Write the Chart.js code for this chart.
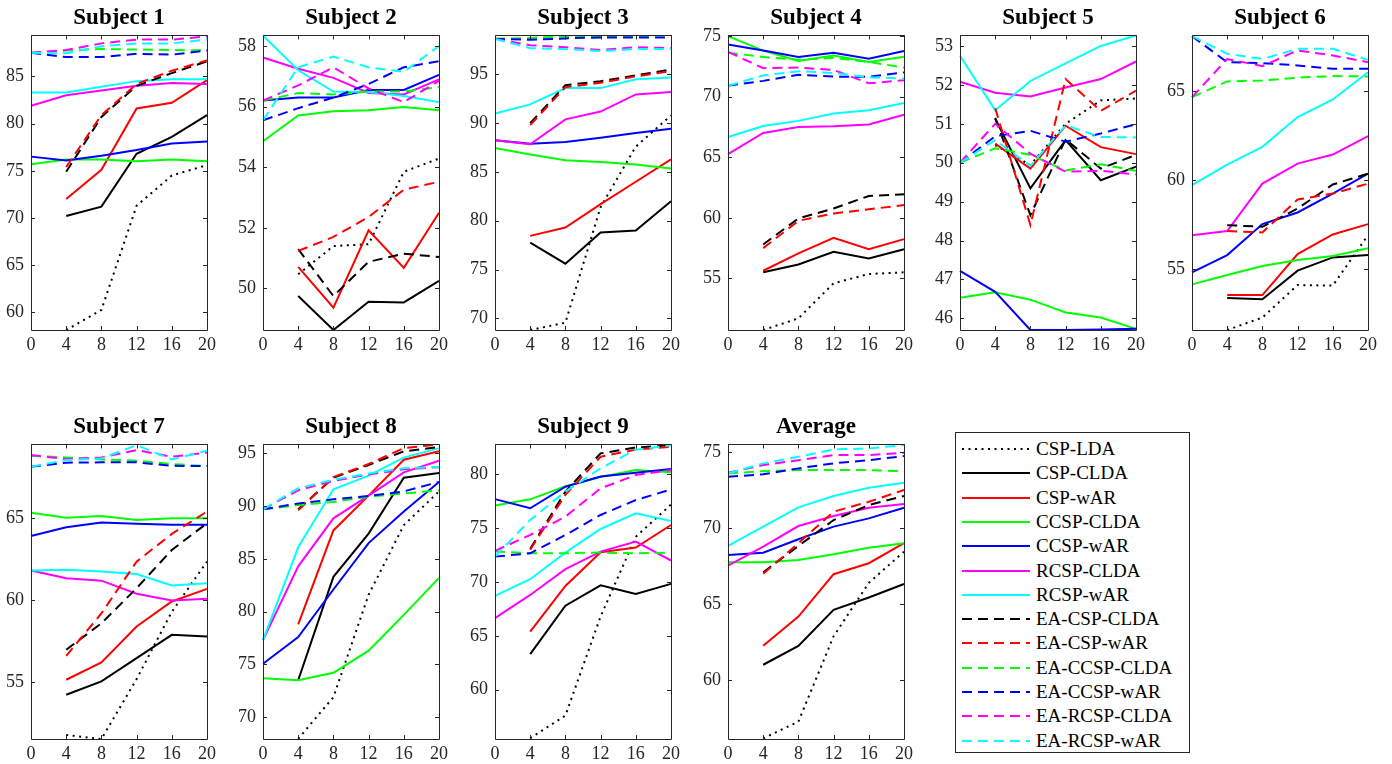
<!DOCTYPE html>
<html>
<head>
<meta charset="utf-8">
<script src="https://cdn.jsdelivr.net/npm/chart.js@4"></script>
<style>
  body { margin: 0; background: #fff; width: 1392px; height: 764px; position: relative; overflow: hidden; }
  .panel { position: absolute; }
  #legend { position: absolute; left: 955px; top: 432px; width: 235px; height: 321px; border: 1px solid #262626; box-sizing: border-box; background: #fff; }
  .entry { position: absolute; left: 0; height: 24px; width: 235px; font-family: "Liberation Serif", serif; font-size: 19px; color: #000; }
  .entry svg { position: absolute; left: 6px; top: 0; }
  .entry span { position: absolute; left: 80px; top: 1px; line-height: 22px; }
</style>
</head>
<body>
<div id="legend"></div>
<script>
const panelTitles = ["Subject 1", "Subject 2", "Subject 3", "Subject 4", "Subject 5", "Subject 6", "Subject 7", "Subject 8", "Subject 9", "Average"];
const xLabels = ["0", "4", "8", "12", "16", "20"];

const yMin = [58.13, 48.63, 68.8, 50.74, 45.7, 51.6, 51.55, 67.93, 55.42, 56.16];
const yMax = [89.34, 58.35, 99.0, 75.05, 53.27, 68.12, 69.5, 95.85, 82.78, 75.48];
const yTicks = [
    [60, 65, 70, 75, 80, 85],
    [50, 52, 54, 56, 58],
    [70, 75, 80, 85, 90, 95],
    [55, 60, 65, 70, 75],
    [46, 47, 48, 49, 50, 51, 52, 53],
    [55, 60, 65],
    [55, 60, 65],
    [70, 75, 80, 85, 90, 95],
    [60, 65, 70, 75, 80],
    [60, 65, 70, 75]
];

// one row per panel (Subject 1..9, Average), one value per number of calibration trials
const cspLda = [
    [null, 58.13, 60.25, 71.3, 74.5, 75.6],
    [null, 50.47, 51.4, 51.46, 53.85, 54.29],
    [null, 68.8, 69.55, 81.4, 87.6, 90.8],
    [null, 50.74, 51.7, 54.6, 55.36, 55.5],
    [null, 50.45, 49.94, 51.0, 51.6, 51.65],
    [null, 51.6, 52.3, 54.12, 54.09, 56.92],
    [null, 51.8, 51.55, 55.2, 59.3, 62.36],
    [null, 67.95, 71.9, 81.6, 88.2, 91.4],
    [null, 55.5, 57.6, 66.8, 74.2, 77.2],
    [null, 56.2, 57.3, 62.9, 66.4, 68.45]
];
const cspClda = [
    [null, 70.2, 71.2, 76.8, 78.6, 80.9],
    [null, 49.75, 48.63, 49.56, 49.54, 50.25],
    [null, 77.75, 75.6, 78.8, 79.0, 82.0],
    [null, 55.5, 56.15, 57.2, 56.65, 57.4],
    [null, 51.13, 49.34, 50.58, 49.55, 49.9],
    [null, 53.4, 53.32, 54.93, 55.67, 55.8],
    [null, 54.25, 55.06, 56.48, 57.9, 57.8],
    [null, 73.5, 83.3, 87.4, 92.7, 93.15],
    [null, 63.3, 67.8, 69.7, 68.9, 69.83],
    [null, 61.03, 62.27, 64.63, 65.44, 66.33]
];
const cspWar = [
    [null, 72.0, 75.1, 81.6, 82.2, 84.6],
    [null, 50.71, 49.37, 51.92, 50.68, 52.5],
    [null, 78.45, 79.3, 81.7, 84.0, 86.3],
    [null, 55.63, 57.06, 58.35, 57.4, 58.24],
    [null, 50.49, 49.85, 50.95, 50.4, 50.22],
    [null, 53.56, 53.56, 55.86, 56.96, 57.54],
    [null, 55.16, 56.22, 58.41, 59.93, 60.7],
    [null, 78.8, 87.7, 91.0, 94.4, 95.2],
    [null, 65.4, 69.64, 72.77, 73.2, 75.3],
    [null, 62.27, 64.19, 66.97, 67.69, 69.0]
];
const ccspClda = [
    [75.7, 76.2, 76.2, 76.0, 76.2, 76.0],
    [54.86, 55.71, 55.85, 55.88, 55.99, 55.88],
    [87.46, 86.8, 86.2, 86.03, 85.76, 85.35],
    [75.0, 73.8, 72.94, 73.4, 72.86, 73.3],
    [46.53, 46.67, 46.48, 46.15, 46.02, 45.73],
    [54.16, 54.68, 55.19, 55.52, 55.75, 56.18],
    [65.34, 65.04, 65.14, 64.9, 65.0, 65.0],
    [73.7, 73.5, 74.2, 76.3, 79.7, 83.2],
    [77.1, 77.68, 78.9, 79.75, 80.4, 80.2],
    [67.75, 67.75, 67.9, 68.28, 68.71, 69.0]
];
const ccspWar = [
    [76.5, 76.1, 76.6, 77.2, 77.9, 78.1],
    [56.2, 56.3, 56.3, 56.55, 56.55, 57.05],
    [88.25, 87.9, 88.08, 88.5, 89.0, 89.44],
    [74.3, 73.8, 73.27, 73.63, 73.13, 73.76],
    [47.22, 46.68, 45.7, 45.7, 45.71, 45.73],
    [54.83, 55.8, 57.54, 58.19, 59.25, 60.37],
    [63.92, 64.45, 64.74, 64.66, 64.61, 64.61],
    [75.06, 77.6, 82.1, 86.5, 89.5, 92.3],
    [77.7, 76.85, 78.85, 79.8, 80.15, 80.5],
    [68.23, 68.38, 69.26, 70.09, 70.63, 71.33]
];
const rcspClda = [
    [81.9, 83.0, 83.5, 84.0, 84.3, 84.2],
    [57.62, 57.25, 56.95, 56.45, 56.4, 56.9],
    [88.25, 87.84, 90.4, 91.2, 92.95, 93.2],
    [65.25, 67.0, 67.5, 67.55, 67.7, 68.5],
    [52.08, 51.8, 51.7, 51.93, 52.15, 52.6],
    [56.92, 57.15, 59.81, 60.93, 61.44, 62.48],
    [61.82, 61.35, 61.2, 60.4, 59.99, 60.1],
    [77.3, 84.3, 88.85, 91.0, 93.2, 94.3],
    [66.65, 68.8, 71.2, 72.83, 73.76, 72.0],
    [67.53, 68.78, 70.13, 70.79, 71.33, 71.57]
];
const rcspWar = [
    [83.3, 83.3, 83.9, 84.5, 84.7, 84.7],
    [58.35, 57.2, 56.5, 56.48, 56.35, 56.15],
    [91.0, 91.93, 93.6, 93.6, 94.5, 94.7],
    [66.67, 67.58, 68.0, 68.6, 68.87, 69.48],
    [52.75, 51.35, 52.1, 52.55, 53.0, 53.27],
    [59.72, 60.88, 61.87, 63.54, 64.53, 66.06],
    [61.82, 61.86, 61.76, 61.6, 60.9, 61.04],
    [77.3, 86.1, 91.6, 92.9, 94.6, 95.5],
    [68.72, 70.26, 72.73, 74.93, 76.38, 75.67],
    [68.82, 70.09, 71.35, 72.1, 72.64, 72.97]
];
const eaCspClda = [
    [null, 74.9, 80.7, 84.0, 85.35, 86.6],
    [null, 51.3, 49.75, 50.88, 51.15, 51.04],
    [null, 90.0, 93.9, 94.3, 94.9, 95.5],
    [null, 57.8, 59.95, 60.77, 61.8, 61.95],
    [null, 51.15, 48.65, 50.6, 49.85, 50.2],
    [null, 57.48, 57.39, 58.41, 59.76, 60.37],
    [null, 56.99, 58.6, 60.74, 63.07, 64.7],
    [null, 89.7, 92.7, 93.9, 95.2, 95.6],
    [null, 73.1, 78.4, 81.95, 82.5, 82.7],
    [null, 67.1, 68.82, 70.52, 71.5, 72.1]
];
const eaCspWar = [
    [null, 75.4, 80.9, 84.2, 85.6, 86.7],
    [null, 51.24, 51.7, 52.36, 53.26, 53.52],
    [null, 89.8, 93.7, 94.15, 94.8, 95.35],
    [null, 57.5, 59.75, 60.36, 60.7, 61.05],
    [null, 51.4, 48.4, 52.15, 51.33, 51.85],
    [null, 57.15, 57.07, 58.92, 59.25, 59.81],
    [null, 56.62, 59.2, 62.36, 64.05, 65.41],
    [null, 89.6, 92.75, 94.0, 95.5, 95.85],
    [null, 73.0, 78.1, 81.64, 82.3, 82.56],
    [null, 67.0, 69.0, 71.07, 71.72, 72.49]
];
const eaCcspClda = [
    [87.5, 87.75, 87.9, 87.85, 87.8, 87.75],
    [56.2, 56.45, 56.4, 56.5, 56.5, 56.65],
    [98.65, 98.75, 98.9, 98.9, 98.95, 99.0],
    [73.63, 73.27, 73.05, 73.2, 72.86, 72.4],
    [50.0, 50.37, 50.2, 49.8, 49.96, 49.79],
    [64.66, 65.54, 65.6, 65.75, 65.84, 65.82],
    [68.8, 68.71, 68.59, 68.51, 68.3, 68.18],
    [89.7, 90.1, 90.4, 90.9, 91.2, 91.5],
    [72.83, 72.67, 72.67, 72.74, 72.67, 72.74],
    [73.58, 73.73, 73.8, 73.8, 73.8, 73.73]
];
const eaCcspWar = [
    [87.5, 87.05, 87.05, 87.4, 87.3, 87.75],
    [55.55, 55.95, 56.3, 56.75, 57.3, 57.5],
    [98.65, 98.55, 98.7, 98.8, 98.8, 98.8],
    [70.9, 71.3, 71.8, 71.65, 71.65, 72.0],
    [50.0, 50.68, 50.82, 50.54, 50.75, 50.99],
    [68.08, 66.62, 66.57, 66.44, 66.25, 66.25],
    [68.14, 68.39, 68.41, 68.41, 68.2, 68.18],
    [89.7, 90.25, 90.65, 90.96, 91.4, 92.3],
    [72.36, 72.67, 74.37, 76.23, 77.62, 78.6],
    [73.36, 73.52, 73.91, 74.24, 74.45, 74.72]
];
const eaRcspClda = [
    [87.5, 87.8, 88.5, 88.9, 88.9, 89.25],
    [56.2, 56.7, 57.3, 56.6, 56.15, 56.85],
    [98.65, 98.0, 97.8, 97.5, 97.8, 97.7],
    [73.7, 72.35, 72.4, 72.2, 71.1, 71.35],
    [50.0, 51.0, 50.23, 49.77, 49.79, 49.7],
    [64.66, 66.8, 66.4, 67.28, 67.0, 66.62],
    [68.85, 68.61, 68.71, 69.16, 68.75, 69.0],
    [89.7, 91.5, 92.4, 93.0, 93.5, 93.7],
    [72.9, 74.37, 76.07, 78.7, 79.94, 80.4],
    [73.62, 74.13, 74.45, 74.78, 74.78, 74.93]
];
const eaRcspWar = [
    [87.5, 87.45, 88.2, 88.5, 88.5, 88.9],
    [55.55, 57.3, 57.65, 57.3, 57.15, 58.0],
    [98.65, 97.7, 97.6, 97.4, 97.6, 97.6],
    [70.9, 71.75, 72.1, 71.95, 71.6, 71.5],
    [50.0, 50.58, 49.92, 50.96, 50.66, 50.65],
    [68.08, 67.09, 66.8, 67.37, 67.37, 66.75],
    [68.14, 68.55, 68.65, 69.46, 68.59, 69.12],
    [89.7, 91.7, 92.5, 93.1, 93.6, 93.7],
    [72.36, 75.77, 78.4, 80.56, 82.3, 82.7],
    [73.58, 74.24, 74.67, 75.15, 75.22, 75.44]
];

const seriesNames = ["CSP-LDA", "CSP-CLDA", "CSP-wAR", "CCSP-CLDA", "CCSP-wAR", "RCSP-CLDA", "RCSP-wAR",
    "EA-CSP-CLDA", "EA-CSP-wAR", "EA-CCSP-CLDA", "EA-CCSP-wAR", "EA-RCSP-CLDA", "EA-RCSP-wAR"];
const seriesData = [cspLda, cspClda, cspWar, ccspClda, ccspWar, rcspClda, rcspWar,
    eaCspClda, eaCspWar, eaCcspClda, eaCcspWar, eaRcspClda, eaRcspWar];
const seriesColors = ["#000000", "#000000", "#ff0000", "#00ff00", "#0000ff", "#ff00ff", "#00ffff",
    "#000000", "#ff0000", "#00ff00", "#0000ff", "#ff00ff", "#00ffff"];
const dotted = [2, 4.5];
const dashed = [10, 6];
const seriesDash = [dotted, [], [], [], [], [], [], dashed, dashed, dashed, dashed, dashed, dashed];

const FONT = "'Liberation Serif', 'Times New Roman', serif";
const AXIS_COLOR = "#262626";

// box round the axes with inward tick marks, like the original figure
const axesBoxPlugin = {
    id: 'axesBox',
    afterDatasetsDraw(chart) {
        const { ctx, chartArea: a } = chart;
        const x = chart.scales.x;
        const y = chart.scales.y;
        const tick = 4;
        ctx.save();
        ctx.strokeStyle = AXIS_COLOR;
        ctx.lineWidth = 1;
        ctx.beginPath();
        ctx.rect(Math.round(a.left) + 0.5, Math.round(a.top) + 0.5, Math.round(a.right - a.left), Math.round(a.bottom - a.top));
        y.ticks.forEach(t => {
            const py = Math.round(y.getPixelForValue(t.value)) + 0.5;
            ctx.moveTo(a.left, py); ctx.lineTo(a.left + tick, py);
            ctx.moveTo(a.right, py); ctx.lineTo(a.right - tick, py);
        });
        x.ticks.forEach((t, i) => {
            const px = Math.round(x.getPixelForTick(i)) + 0.5;
            ctx.moveTo(px, a.bottom); ctx.lineTo(px, a.bottom - tick);
            ctx.moveTo(px, a.top); ctx.lineTo(px, a.top + tick);
        });
        ctx.stroke();
        ctx.restore();
    }
};

function makePanel(p) {
    const col = p % 6;
    const row = p < 6 ? 0 : 1;
    const plotLeft = 31 + 232.2 * col;
    const div = document.createElement('div');
    div.className = 'panel';
    div.style.left = (plotLeft - 31) + 'px';
    div.style.top = (row === 0 ? 0 : 409) + 'px';
    const canvas = document.createElement('canvas');
    canvas.width = 220;
    canvas.height = 360;
    div.appendChild(canvas);
    document.body.appendChild(div);

    const datasets = seriesNames.map((name, i) => ({
        label: name,
        data: seriesData[i][p],
        borderColor: seriesColors[i],
        backgroundColor: seriesColors[i],
        borderWidth: 2,
        borderDash: seriesDash[i],
        pointRadius: 0,
        tension: 0,
        fill: false,
        order: seriesNames.length - i,
    }));

    new Chart(canvas, {
        type: 'line',
        data: { labels: xLabels, datasets: datasets },
        options: {
            responsive: false,
            animation: false,
            layout: { padding: { top: 0, right: 12, bottom: 0, left: 0 } },
            plugins: {
                legend: { display: false },
                tooltip: { enabled: false },
                title: {
                    display: true,
                    text: panelTitles[p],
                    fullSize: false,
                    color: '#000',
                    font: { family: FONT, size: 23, weight: 'bold', lineHeight: 1.15 },
                    padding: { top: 5, bottom: 4 },
                },
            },
            scales: {
                x: {
                    type: 'category',
                    offset: false,
                    grid: { display: false, drawTicks: false },
                    border: { display: false },
                    ticks: { color: AXIS_COLOR, font: { family: FONT, size: 18 }, padding: 4, maxRotation: 0, autoSkip: false },
                    afterFit(scale) { scale.height = 30; },
                },
                y: {
                    min: yMin[p],
                    max: yMax[p],
                    bounds: 'data',
                    grid: { display: false, drawTicks: false },
                    border: { display: false },
                    ticks: { color: AXIS_COLOR, font: { family: FONT, size: 18 }, padding: 7, includeBounds: false },
                    afterBuildTicks(scale) { scale.ticks = yTicks[p].map(v => ({ value: v })); },
                    afterFit(scale) { scale.width = 31; },
                },
            },
        },
        plugins: [axesBoxPlugin],
    });
}

for (let p = 0; p < panelTitles.length; p++) {
    makePanel(p);
}

// legend
const legend = document.getElementById('legend');
seriesNames.forEach((name, i) => {
    const e = document.createElement('div');
    e.className = 'entry';
    e.style.top = (4 + i * 24.3) + 'px';
    const dash = seriesDash[i].length ? seriesDash[i].join(' ') : 'none';
    e.innerHTML = '<svg width="70" height="24"><line x1="0" y1="12" x2="68" y2="12" stroke="' + seriesColors[i] +
        '" stroke-width="2" stroke-dasharray="' + dash + '"/></svg><span>' + name + '</span>';
    legend.appendChild(e);
});
</script>
</body>
</html>
